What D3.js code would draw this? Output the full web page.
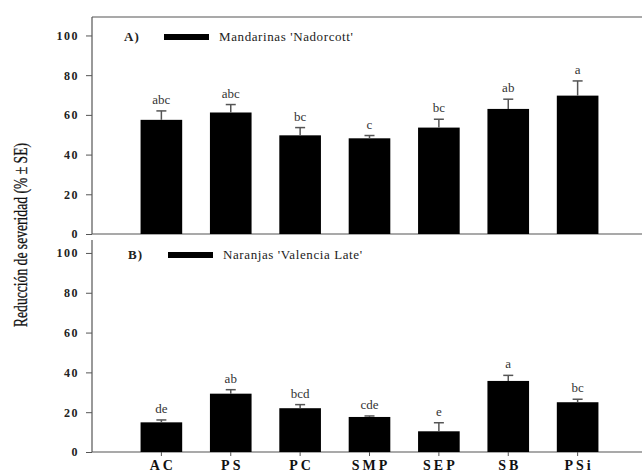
<!DOCTYPE html>
<html><head><meta charset="utf-8">
<script src="https://cdn.jsdelivr.net/npm/d3@7"></script>
<style>body{margin:0;background:#fff}svg{display:block}svg text{font-family:"Liberation Serif","Times New Roman","DejaVu Serif",serif}</style>
</head><body>
<script>
const categories = ["AC","PS","PC","SMP","SEP","SB","PSi"];
const valuesA = [57.5, 61.2, 49.7, 48.2, 53.6, 63.0, 69.7];
const seA     = [4.5, 4.0, 3.9, 1.4, 4.2, 4.9, 7.4];
const lettersA = ["abc","abc","bc","c","bc","ab","a"];
const valuesB = [14.9, 29.3, 22.0, 17.6, 10.4, 35.7, 25.0];
const seB     = [1.2, 2.0, 1.8, 0.5, 4.3, 2.8, 1.5];
const lettersB = ["de","ab","bcd","cde","e","a","bc"];
const yTicks = [0,20,40,60,80,100];
const legendA = "Mandarinas 'Nadorcott'";
const legendB = "Naranjas 'Valencia Late'";
const yTitle = "Reducción de severidad (% ± SE)";

const W=642,H=472;
const svg=d3.select("body").append("svg").attr("width",W).attr("height",H);
const lineCol="#555";
const x=d3.scaleBand().domain(categories).range([92,647]).paddingInner(0.4).paddingOuter(0.7);

function panel(vals,se,letters,yDomMax,r0,r1,axisTop,tag,legend,tagX,legY){
  const y=d3.scaleLinear().domain([0,yDomMax]).range([r0,r1]);
  const g=svg.append("g");
  const ax=g.append("g").attr("transform","translate(92,0)")
    .call(d3.axisLeft(y).tickValues(yTicks).tickSize(6).tickPadding(7));
  ax.attr("font-family",null);
  ax.select(".domain").remove();
  ax.selectAll(".tick line").attr("stroke",lineCol);
  ax.selectAll(".tick text").attr("font-weight","bold")
    .attr("font-size",12).attr("fill","#222").attr("letter-spacing",1.5);
  g.append("line").attr("x1",92).attr("x2",92).attr("y1",axisTop).attr("y2",y(0))
    .attr("stroke",lineCol).attr("stroke-width",1.2);
  g.append("line").attr("x1",92).attr("x2",W).attr("y1",y(0)).attr("y2",y(0))
    .attr("stroke",lineCol).attr("stroke-width",1.2);
  g.selectAll("rect.bar").data(vals).join("rect").attr("class","bar")
    .attr("x",(d,i)=>x(categories[i])).attr("width",x.bandwidth())
    .attr("y",d=>y(d)).attr("height",d=>y(0)-y(d)).attr("fill","#000");
  const cx=i=>x(categories[i])+x.bandwidth()/2;
  g.selectAll("line.err").data(vals).join("line").attr("class","err")
    .attr("x1",(d,i)=>cx(i)).attr("x2",(d,i)=>cx(i))
    .attr("y1",d=>y(d)).attr("y2",(d,i)=>y(d+se[i]))
    .attr("stroke",lineCol).attr("stroke-width",1.5);
  g.selectAll("line.cap").data(vals).join("line").attr("class","cap")
    .attr("x1",(d,i)=>cx(i)-5).attr("x2",(d,i)=>cx(i)+5)
    .attr("y1",(d,i)=>y(d+se[i])).attr("y2",(d,i)=>y(d+se[i]))
    .attr("stroke",lineCol).attr("stroke-width",1.5);
  g.selectAll("text.let").data(vals).join("text").attr("class","let")
    .attr("x",(d,i)=>cx(i)).attr("y",(d,i)=>y(d+se[i])-7)
    .attr("text-anchor","middle").attr("font-size",13)
    .attr("fill","#333").text((d,i)=>letters[i]);
  g.append("text").attr("x",tagX).attr("y",legY+4)
    .attr("font-weight","bold").attr("font-size",13).attr("fill","#222").attr("letter-spacing",1).text(tag);
  g.append("rect").attr("x",tagX+40).attr("y",legY-3).attr("width",45).attr("height",6).attr("fill","#000");
  g.append("text").attr("x",tagX+95).attr("y",legY+4)
    .attr("font-size",13).attr("fill","#222").attr("letter-spacing",0.6).text(legend);
  return y;
}
panel(valuesA,seA,lettersA,109.3,234,17,17,"A)",legendA,124,37);
panel(valuesB,seB,lettersB,106.5,452,240,240,"B)",legendB,128,255);
svg.append("line").attr("x1",92).attr("x2",W).attr("y1",17).attr("y2",17).attr("stroke",lineCol).attr("stroke-width",1.2);
svg.selectAll("line.xt").data(categories).join("line").attr("class","xt")
  .attr("x1",d=>x(d)+x.bandwidth()/2).attr("x2",d=>x(d)+x.bandwidth()/2)
  .attr("y1",452).attr("y2",456).attr("stroke",lineCol);
svg.selectAll("text.xl").data(categories).join("text").attr("class","xl")
  .attr("x",d=>x(d)+x.bandwidth()/2+1.5).attr("y",470).attr("text-anchor","middle")
  .attr("font-weight","bold").attr("font-size",14)
  .attr("letter-spacing",3).attr("fill","#111").text(d=>d);
svg.append("text").attr("transform","translate(27,235) rotate(-90)")
  .attr("text-anchor","middle").attr("font-size",18)
  .attr("textLength",184).attr("lengthAdjust","spacingAndGlyphs")
  .attr("fill","#111").attr("stroke","#111").attr("stroke-width",0.3).text(yTitle);
</script>
</body></html>
